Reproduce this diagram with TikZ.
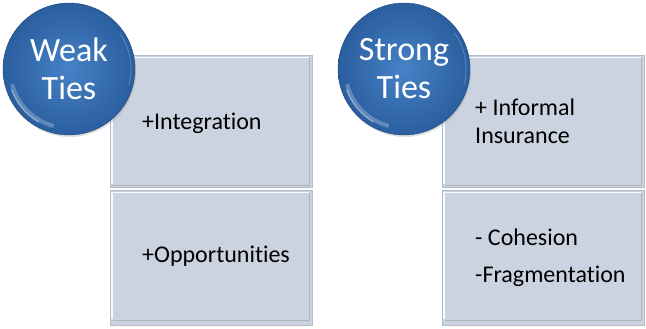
\documentclass[tikz,border=0pt]{standalone}
\usepackage{fontspec}
\setmainfont[Ligatures=NoCommon]{Carlito}
\usetikzlibrary{shadows,fadings}
\definecolor{boxfill}{HTML}{CBD3E1}
\definecolor{boxedge}{HTML}{B4BCCB}
\definecolor{balldark}{HTML}{2A5E9F}
\definecolor{balllight}{HTML}{4682C6}
\tikzset{
  panel/.style={fill=boxfill, draw=boxedge, line width=0.8pt},
  ball/.style={circle, minimum size=132pt, inner sep=0pt,
    shade, inner color=balllight, outer color=balldark,
    draw=balldark!80!black, line width=0.4pt,
    align=center, text=white, font=\fontsize{34}{38}\selectfont,
    drop shadow={shadow xshift=1pt, shadow yshift=-2pt, opacity=0.25}},
  itemtext/.style={anchor=base west, font=\fontsize{24}{28}\selectfont, align=left, inner sep=0pt}
}
\begin{document}
\begin{tikzpicture}[x=1pt,y=-1pt]
\useasboundingbox (0,0) rectangle (646,329);

% panels of the left group
\path[panel] (110,55) rectangle (312,187);
\path[panel] (110,190) rectangle (312,325);
% panels of the right group
\path[panel] (442,55) rectangle (644,187);
\path[panel] (442,190) rectangle (644,325);

% bevel highlights
\foreach \x/\y in {110/55,110/190,442/55,442/190}{
  \draw[white, line width=1.6pt, opacity=0.9] (\x+2,\y+132-3) -- (\x+2,\y+2.5) -- (\x+199,\y+2.5);
  \draw[boxedge!80!black, line width=0.8pt, opacity=0.5] (\x+199.5,\y+3) -- (\x+199.5,\y+132-2) -- (\x+3,\y+132-2);
}

% base points of the last text line in each panel
\coordinate (wa) at (142,129);
\coordinate (wb) at (142,262);
\coordinate (sa) at (475,143);
\coordinate (sb) at (475,282);

\node[itemtext] (integ) at (wa) {+Integration};
\node[itemtext] (opp) at (wb) {+Opportunities};
\node[itemtext] (ins) at (sa) {+ Informal\\Insurance};
\node[itemtext] (coh) at (sb) {- Cohesion\\[9pt]-Fragmentation};

% the two round labels
\node[ball] (weak) at (69,69) {Weak\\Ties};
\node[ball] (strong) at (404,69) {Strong\\Ties};

% glossy reflection on the rim of each ball
\foreach \c in {weak,strong}{
  \begin{scope}
    \clip (\c.center) circle (64pt);
    \draw[white, line width=4pt, opacity=0.25] ([shift={(195:59pt)}]\c.center) arc[start angle=195, end angle=255, radius=59pt];
    \draw[white, line width=1.5pt, opacity=0.35] ([shift={(200:61pt)}]\c.center) arc[start angle=200, end angle=240, radius=61pt];
    \draw[white, line width=1pt, opacity=0.2] ([shift={(35:62pt)}]\c.center) arc[start angle=35, end angle=-15, radius=62pt];
  \end{scope}
}
\end{tikzpicture}
\end{document}
